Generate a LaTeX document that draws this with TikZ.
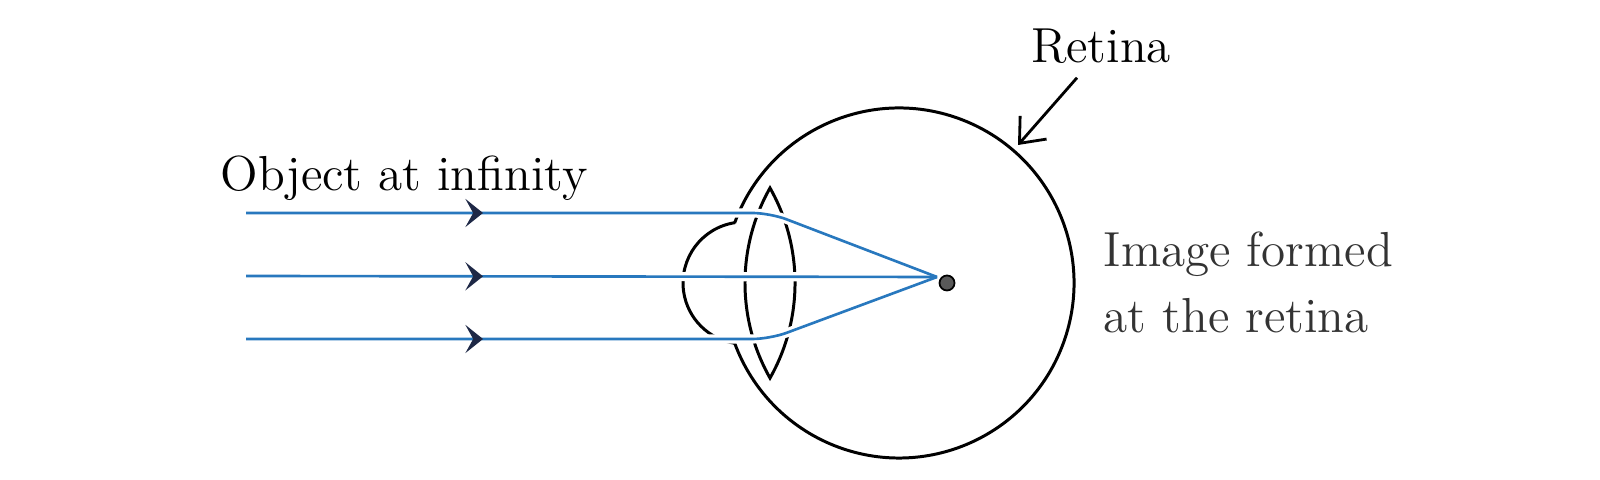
\documentclass[tikz,border=0pt]{standalone}
\usepackage{fontspec}
\usepackage{tikz}
\usetikzlibrary{positioning, calc, arrows.meta, decorations.markings}
\definecolor{raycol}{RGB}{40,120,190}
\definecolor{tipcol}{RGB}{30,40,70}

\begin{document}
\begin{tikzpicture}[txt/.style={inner sep=0pt, font=\fontsize{14}{17}\selectfont},
	line/.style={line width=0.85pt},
	gap/.style={draw=white, line width=2.6pt},
	ray/.style={draw=raycol, line width=0.75pt, postaction={decorate},
		decoration={markings, mark=at position 2.37cm with {\arrow[tipcol]{Stealth[length=5pt, width=8pt, inset=2.2pt]}}}},
	dot/.style={circle, draw=black, fill=black!65, line width=0.5pt, inner sep=0pt, minimum size=0.15cm}]
\useasboundingbox (0,0) rectangle (16,4.8);
% eyeball, cornea, lens
\coordinate (c) at (8.99,1.97);
\draw[line] (c) ++(160:1.75) arc[start angle=160, end angle=-160, radius=1.75];
\draw[line] (7.44,1.97) ++(98.5:0.61) arc[start angle=98.5, end angle=261.5, radius=0.61];
\draw[line] (7.70,2.92) arc[start angle=150.5, end angle=209.5, radius=1.93]
	arc[start angle=-29.5, end angle=29.5, radius=1.93] -- cycle;
% rays
\coordinate (f) at (9.37,2.03);
\foreach \y/\n in {2.67/t, 2.04/m, 1.41/b} {
	\coordinate (s\n) at (2.46,\y);
	\coordinate (l\n) at (7.70,\y);
}
\foreach \s in {gap, ray} {
	\draw[\s, rounded corners=5pt] (st) -- (lt) -- (f);
	\draw[\s] (sm) -- (f);
	\draw[\s, rounded corners=5pt] (sb) -- (lb) -- (f);
}
\node[dot] (img) at (9.47,1.97) {};
% labels
\node[txt, anchor=base west] (obj) at (2.20,2.89) {Object at infinity};
\node[txt, anchor=base] (retina) at (11.01,4.17) {Retina};
\coordinate (ret) at (10.18,3.35);
\draw[line width=0.8pt, -{Straight Barb[length=6pt, width=10pt]}] ([shift={(-0.24,-0.13)}]retina.south) -- (ret);
\node[txt, anchor=base west, text=black!80] (im1) at (11.03,2.13) {Image formed};
\node[txt, anchor=base west, text=black!80] (im2) at ([yshift=-0.66cm]im1.base west) {at the retina};
\end{tikzpicture}
\end{document}
